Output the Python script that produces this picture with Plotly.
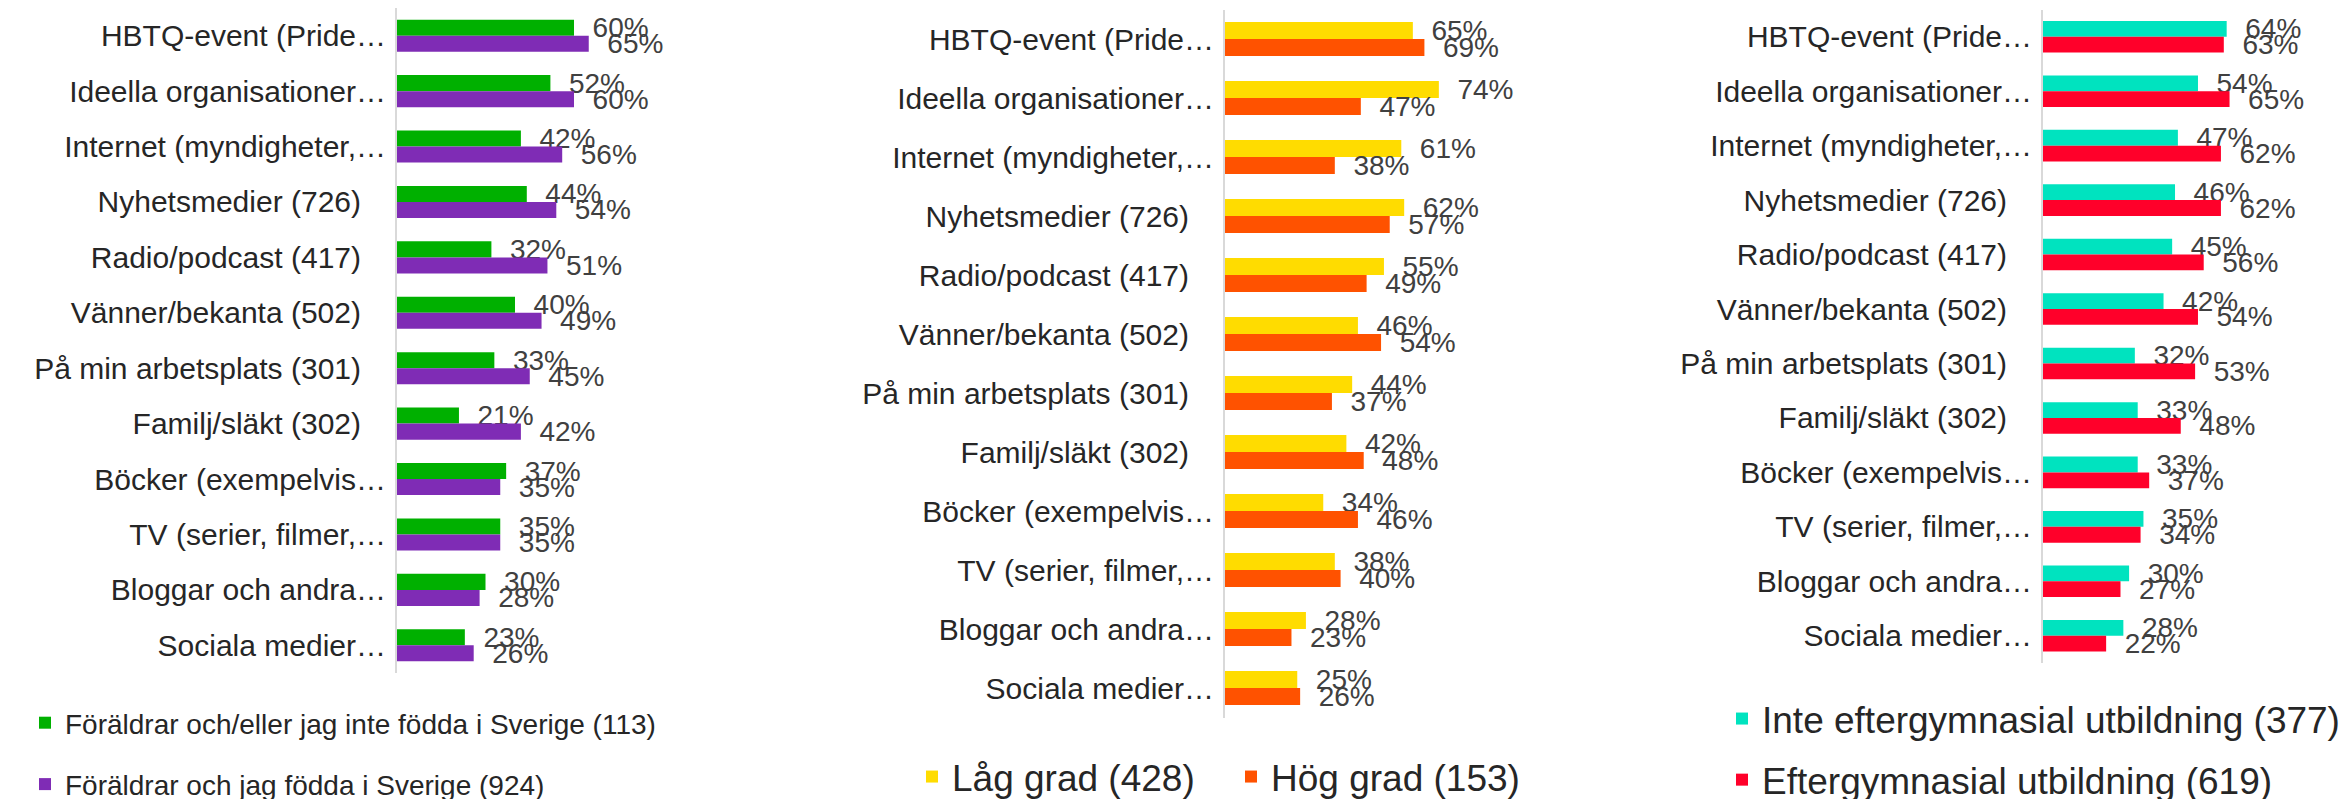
import plotly.graph_objects as go

W, H = 2351, 799

categories = [
    "HBTQ-event (Pride…", "Ideella organisationer…", "Internet (myndigheter,…",
    "Nyhetsmedier (726)", "Radio/podcast (417)", "Vänner/bekanta (502)",
    "På min arbetsplats (301)", "Familj/släkt (302)", "Böcker (exempelvis…",
    "TV (serier, filmer,…", "Bloggar och andra…", "Sociala medier…",
]

# panel 1: born in Sweden or not
utrikes = [60, 52, 42, 44, 32, 40, 33, 21, 37, 35, 30, 23]
inrikes = [65, 60, 56, 54, 51, 49, 45, 42, 35, 35, 28, 26]
# panel 2: degree
lag_grad = [65, 74, 61, 62, 55, 46, 44, 42, 34, 38, 28, 25]
hog_grad = [69, 47, 38, 57, 49, 54, 37, 48, 46, 40, 23, 26]
# panel 3: education
ej_eftergymn = [64, 54, 47, 46, 45, 42, 32, 33, 33, 35, 30, 28]
eftergymn = [63, 65, 62, 62, 56, 54, 53, 48, 37, 34, 27, 22]

names1 = ["Föräldrar och/eller jag inte födda i Sverige (113)",
          "Föräldrar och jag födda i Sverige (924)"]
names2 = ["Låg grad (428)", "Hög grad (153)"]
names3 = ["Inte eftergymnasial utbildning (377)",
          "Eftergymnasial utbildning (619)"]

FONT = "Liberation Sans, Arial, sans-serif"

# excel lets cut-off labels run up to the axis, the others keep a gap
tick_labels = [c if c.endswith("…") else c + "\u00a0\u00a0\u00a0" for c in categories]


def px_x(p):
    return p / W


def px_y(p):
    return 1 - p / H


def add_panel(fig, idx, values, names, colors, legend):
    sfx = "" if idx == 1 else str(idx)
    for vals, name, col in zip(values, names, colors):
        fig.add_trace(go.Bar(
            x=vals, y=categories, orientation="h", name=name,
            marker={"color": col, "line": {"width": 0}},
            texttemplate="\u00a0\u00a0%{x}%", textposition="outside",
            textfont={"size": 28, "color": "#404040", "family": FONT},
            cliponaxis=False, constraintext="none",
            xaxis="x" + sfx, yaxis="y" + sfx, legend=legend,
            legendgroup=name, hoverinfo="skip",
        ))


fig = go.Figure()
add_panel(fig, 1, [utrikes, inrikes], names1, ["#00B000", "#7F2CB5"], "legend")
add_panel(fig, 2, [lag_grad, hog_grad], names2, ["#FFDC00", "#FF5200"], "legend2")
add_panel(fig, 3, [ej_eftergymn, eftergymn], names3, ["#00E3BF", "#FF002A"], "legend3")

# x: axis start px, px per percent ; y: top px, bottom px of the category band
panels = {
    1: (397, 2.95, 8, 673),
    2: (1225, 2.89, 9.5, 717.5),
    3: (2043, 2.87, 9.5, 663),
}

layout = dict(
    width=W, height=H,
    margin=dict(l=0, r=0, t=0, b=0, autoexpand=False),
    paper_bgcolor="white", plot_bgcolor="white",
    barmode="group", bargap=0.42, bargroupgap=0,
    font=dict(family=FONT, color="#262626"),
    showlegend=True,
)
for i, (x0, ppp, ytop, ybot) in panels.items():
    sfx = "" if i == 1 else str(i)
    layout["xaxis" + sfx] = dict(
        domain=[px_x(x0), px_x(x0 + 100 * ppp)], range=[0, 100],
        visible=False, anchor="y" + sfx, fixedrange=True,
    )
    layout["yaxis" + sfx] = dict(
        domain=[px_y(ybot), px_y(ytop)], type="category",
        range=[len(categories) - 0.5, -0.5], anchor="x" + sfx,
        tickmode="array", tickvals=categories, ticktext=tick_labels,
        showline=True, linecolor="#D9D9D9", linewidth=2,
        showgrid=False, zeroline=False, ticks="",
        ticklabelstandoff=3,
        tickfont=dict(size=30, color="#262626", family=FONT),
        fixedrange=True,
    )

layout["legend"] = dict(
    x=px_x(25), y=px_y(698), xanchor="left", yanchor="top",
    orientation="v", tracegroupgap=22,
    font=dict(size=28, color="#262626", family=FONT),
    bgcolor="rgba(0,0,0,0)",
)
layout["legend2"] = dict(
    x=px_x(912), y=px_y(746), xanchor="left", yanchor="top",
    orientation="h", entrywidth=274, entrywidthmode="pixels",
    font=dict(size=37, color="#262626", family=FONT),
    bgcolor="rgba(0,0,0,0)",
)
layout["legend3"] = dict(
    x=px_x(1722), y=px_y(688), xanchor="left", yanchor="top",
    orientation="v", tracegroupgap=10,
    font=dict(size=37, color="#262626", family=FONT),
    bgcolor="rgba(0,0,0,0)",
)

fig.update_layout(**layout)
# drop the browser's default 8px body margin so the figure sits at 0,0
fig.write_html("out.html", config={"displayModeBar": False},
               post_script="document.body.style.margin='0';")
